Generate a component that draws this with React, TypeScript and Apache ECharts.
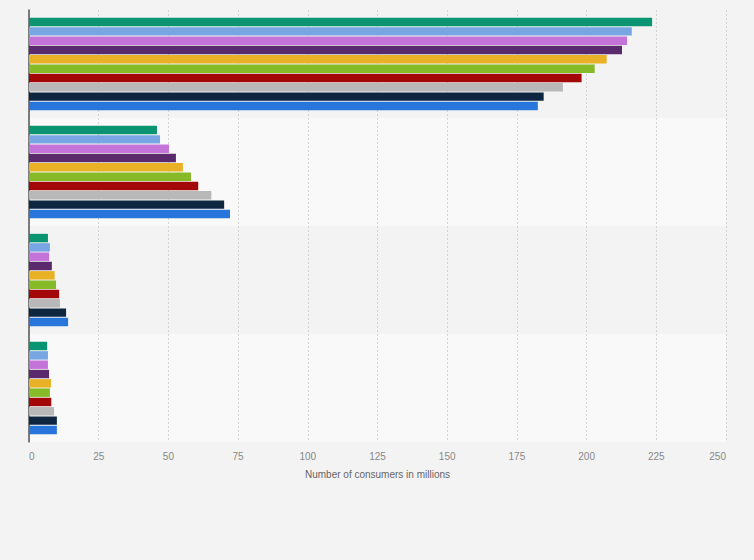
import React, { useEffect, useRef } from "react";
import * as echarts from "echarts";

const categories = ["Group 1", "Group 2", "Group 3", "Group 4"];
const seriesNames = ["Series 1", "Series 2", "Series 3", "Series 4", "Series 5", "Series 6", "Series 7", "Series 8", "Series 9", "Series 10"];
const seriesColors = ["#0a9471", "#78a6e2", "#c474d8", "#5a2a6d", "#e9b226", "#86ba27", "#a20808", "#b8b8b8", "#0e2640", "#2876dc"];
// values[seriesIndex][categoryIndex]
const s1 = [223.5, 45.9, 6.8, 6.5];
const s2 = [216.2, 47.0, 7.5, 6.8];
const s3 = [214.5, 50.2, 7.2, 6.8];
const s4 = [212.7, 52.7, 8.2, 7.2];
const s5 = [207.2, 55.2, 9.2, 7.9];
const s6 = [202.9, 58.1, 9.7, 7.5];
const s7 = [198.2, 60.7, 10.8, 8.0];
const s8 = [191.5, 65.4, 11.1, 9.0];
const s9 = [184.6, 70.0, 13.3, 10.0];
const s10 = [182.5, 72.1, 14.0, 10.0];
const seriesValues = [s1, s2, s3, s4, s5, s6, s7, s8, s9, s10];
const axisName = "Number of consumers in millions";

export default function App() {
  const ref = useRef<HTMLDivElement>(null);
  useEffect(() => {
    document.body.style.margin = "0";
    const chart = echarts.init(ref.current!, null, { renderer: "svg" });
    chart.setOption({
      animation: false,
      backgroundColor: "#f3f3f3",
      grid: { left: 29, right: 28, top: 10, bottom: 118, containLabel: false },
      xAxis: {
        type: "value",
        min: 0,
        max: 250,
        interval: 25,
        name: axisName,
        nameLocation: "middle",
        nameGap: 27,
        nameTextStyle: { color: "#666", fontSize: 10, fontFamily: "Liberation Sans, Arial, sans-serif" },
        axisLine: { show: false },
        axisTick: { show: false },
        axisLabel: {
          color: "#888",
          fontSize: 10,
          margin: 9,
          fontFamily: "Liberation Sans, Arial, sans-serif",
          alignMinLabel: "left",
          alignMaxLabel: "right",
        },
        splitLine: { show: true, lineStyle: { color: "#d4d4d4", width: 1, type: [2, 2] } },
      },
      yAxis: {
        type: "category",
        data: categories,
        inverse: true,
        axisLine: { show: true, lineStyle: { color: "#555", width: 1.5 } },
        axisTick: { show: false },
        axisLabel: { show: false },
        splitArea: { show: true, areaStyle: { color: ["#f3f3f3", "#f9f9f9"] } },
      },
      series: seriesNames.map((name, i) => ({
        name,
        type: "bar",
        data: seriesValues[i],
        barGap: "10%",
        barCategoryGap: "14.5%",
        itemStyle: { color: seriesColors[i] },
      })),
    });
    return () => chart.dispose();
  }, []);
  return <div ref={ref} style={{ width: 754, height: 560 }} />;
}
